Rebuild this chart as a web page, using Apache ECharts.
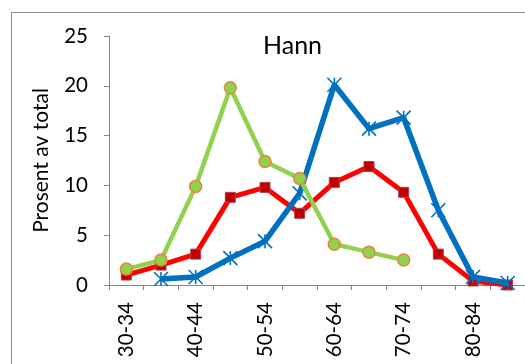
<!DOCTYPE html>
<html>
<head>
<meta charset="utf-8">
<script src="https://cdn.jsdelivr.net/npm/echarts@6/dist/echarts.min.js"></script>
<style>
  html, body { margin: 0; padding: 0; background: #fff; }
  #chart { width: 525px; height: 364px; }
</style>
</head>
<body>
<div id="chart"></div>
<script>
// Age groups along the x axis
const ageGroups = ['30-34', '35-39', '40-44', '45-49', '50-54', '55-59',
                   '60-64', '65-69', '70-74', '75-79', '80-84', '85-89'];

// Share of total (%) per age group for each series
const redValues   = [1.0, 2.0, 3.1, 8.8, 9.8, 7.2, 10.3, 11.9, 9.3, 3.1, 0.4, 0.0];
const blueValues  = [null, 0.6, 0.8, 2.7, 4.4, 9.2, 20.1, 15.7, 16.8, 7.5, 0.8, 0.2];
const greenValues = [1.6, 2.5, 9.9, 19.8, 12.4, 10.7, 4.1, 3.3, 2.5, null, null, null];

// Y axis ticks
const yTicks = [0, 5, 10, 15, 20, 25];

const titleText = 'Hann';
const yAxisName = 'Prosent av total';

const FONT = 'Lato, "Open Sans", sans-serif';
const AXIS_GRAY = '#868686';

// Asterisk marker: X with a vertical bar
const asterisk = 'path://M0,0L10,10M10,0L0,10M5,0L5,10';

const chart = echarts.init(document.getElementById('chart'), null, { renderer: 'canvas' });

chart.setOption({
  animation: false,
  backgroundColor: '#fff',
  title: {
    text: titleText,
    left: 263,
    top: 33,
    padding: 0,
    textStyle: { fontFamily: FONT, fontSize: 25, fontWeight: 'normal', color: '#000' }
  },
  graphic: [{
    type: 'rect',
    shape: { x: 11.5, y: 12.5, width: 600, height: 500 },
    style: { fill: 'none', stroke: '#8c8c8c', lineWidth: 1 },
    silent: true,
    z: -1
  }],
  grid: { left: 109, top: 36, width: 420, height: 249 },
  xAxis: {
    type: 'category',
    data: ageGroups,
    boundaryGap: true,
    axisLine: { lineStyle: { color: AXIS_GRAY, width: 1 } },
    axisTick: { show: true, length: 5, interval: 0, lineStyle: { color: AXIS_GRAY } },
    axisLabel: {
      interval: 1,
      rotate: 90,
      margin: 17,
      fontFamily: FONT,
      fontSize: 20.5,
      color: '#000'
    },
    splitLine: { show: false }
  },
  yAxis: {
    type: 'value',
    min: yTicks[0],
    max: yTicks[yTicks.length - 1],
    interval: yTicks[1] - yTicks[0],
    name: yAxisName,
    nameLocation: 'middle',
    nameRotate: 90,
    nameGap: 57,
    nameTextStyle: { fontFamily: FONT, fontSize: 21, color: '#000' },
    axisLine: { show: true, lineStyle: { color: AXIS_GRAY, width: 1 } },
    axisTick: { show: true, length: 5, lineStyle: { color: AXIS_GRAY } },
    axisLabel: { margin: 21, fontFamily: FONT, fontSize: 20.5, color: '#000' },
    splitLine: { show: false }
  },
  series: [
    {
      name: 'red',
      type: 'line',
      data: redValues,
      showAllSymbol: true,
      connectNulls: false,
      symbol: 'rect',
      symbolSize: 10,
      lineStyle: { color: '#FF0000', width: 5 },
      itemStyle: { color: '#C00000', borderColor: '#A8444C', borderWidth: 1 },
      z: 2
    },
    {
      name: 'blue',
      type: 'line',
      data: blueValues,
      showAllSymbol: true,
      connectNulls: false,
      symbol: asterisk,
      symbolSize: 14,
      lineStyle: { color: '#0070C0', width: 5.5 },
      itemStyle: { color: '#0070C0', borderColor: '#0070C0', borderWidth: 1.6 },
      z: 3
    },
    {
      name: 'green',
      type: 'line',
      data: greenValues,
      showAllSymbol: true,
      connectNulls: false,
      symbol: 'circle',
      symbolSize: 12,
      lineStyle: { color: '#92D050', width: 4.5 },
      itemStyle: { color: '#92D050', borderColor: '#E8853A', borderWidth: 1.5 },
      z: 4
    }
  ]
});
</script>
</body>
</html>
